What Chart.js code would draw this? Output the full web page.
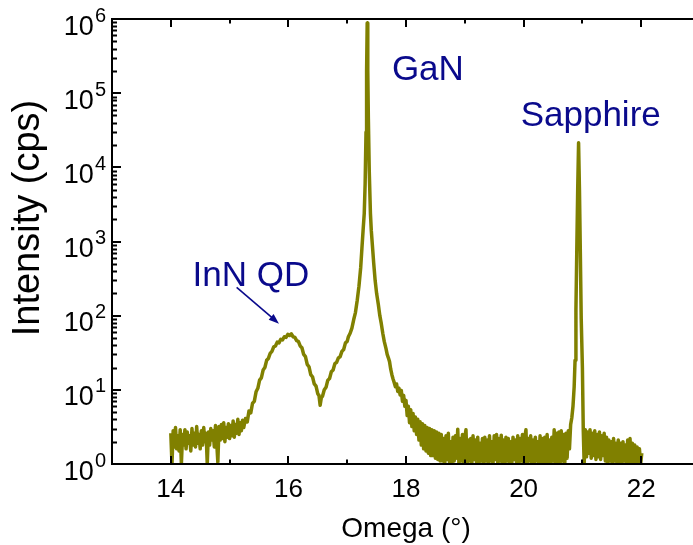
<!DOCTYPE html>
<html>
<head>
<meta charset="utf-8">
<title>XRD omega scan</title>
<script src="https://cdn.jsdelivr.net/npm/chart.js@4.4.1/dist/chart.umd.min.js"></script>
<style>
  html, body { margin: 0; padding: 0; background: #fff; overflow: hidden; }
  #wrap { position: relative; width: 702px; height: 545px; }
</style>
</head>
<body>
<div id="wrap"><canvas id="xrd-chart"></canvas></div>
<script>
// omega scan, angle in degrees
const omega = [
  // low-angle background
  14.00, 14.02, 14.04, 14.06, 14.08, 14.10, 14.12, 14.14, 14.16, 14.18,
  14.20, 14.22, 14.24, 14.26, 14.28, 14.30, 14.32, 14.34, 14.36, 14.38,
  14.40, 14.42, 14.44, 14.46, 14.48, 14.50, 14.52, 14.54, 14.56, 14.58,
  14.60, 14.62, 14.64, 14.66, 14.68, 14.70, 14.72, 14.74, 14.76, 14.78,
  14.80, 14.82, 14.84, 14.86, 14.88, 14.90, 14.92, 14.94, 14.96, 14.98,
  15.00, 15.02, 15.04, 15.06, 15.08, 15.10, 15.12, 15.14, 15.16, 15.18,
  15.20, 15.22, 15.24,
  // InN QD hump
  15.27, 15.30, 15.33, 15.36, 15.39, 15.42, 15.45, 15.48, 15.51, 15.54,
  15.57, 15.60, 15.63, 15.66, 15.69, 15.72, 15.75, 15.78, 15.81, 15.84,
  15.87, 15.90, 15.93, 15.96, 15.99, 16.02, 16.05, 16.08, 16.11, 16.14,
  16.17, 16.20, 16.23, 16.26, 16.29, 16.32, 16.35, 16.38, 16.41, 16.44,
  16.47, 16.50, 16.52, 16.54, 16.56, 16.58, 16.61, 16.64, 16.67, 16.70,
  16.73, 16.76, 16.79, 16.82, 16.85, 16.88, 16.91, 16.94, 16.97, 17.00,
  17.02,
  // GaN reflection
  17.05, 17.08, 17.11, 17.14, 17.17, 17.20, 17.23, 17.25, 17.27, 17.29,
  17.305, 17.32, 17.33, 17.34, 17.35, 17.36, 17.375, 17.395, 17.41, 17.43,
  17.45, 17.475, 17.50, 17.53, 17.555, 17.58, 17.605, 17.63,
  // GaN tail
  17.66, 17.68, 17.70, 17.72, 17.74, 17.76, 17.78, 17.80, 17.82, 17.84,
  17.86, 17.88, 17.90, 17.92, 17.94, 17.96, 17.98, 18.00, 18.02, 18.04,
  18.06, 18.08, 18.10, 18.12, 18.14, 18.16, 18.18, 18.20, 18.22, 18.24,
  18.26, 18.28, 18.30, 18.32, 18.34, 18.36, 18.38, 18.40, 18.42, 18.44,
  18.46, 18.48, 18.50, 18.52, 18.54, 18.56, 18.58,
  // mid background
  18.60, 18.62, 18.64, 18.66, 18.68, 18.70, 18.72, 18.74, 18.76, 18.78,
  18.80, 18.82, 18.84, 18.86, 18.88, 18.90, 18.92, 18.94, 18.96, 18.98,
  19.00, 19.02, 19.04, 19.06, 19.08, 19.10, 19.12, 19.14, 19.16, 19.18,
  19.20, 19.22, 19.24, 19.26, 19.28, 19.30, 19.32, 19.34, 19.36, 19.38,
  19.40, 19.42, 19.44, 19.46, 19.48, 19.50, 19.52, 19.54, 19.56, 19.58,
  19.60, 19.62, 19.64, 19.66, 19.68, 19.70, 19.72, 19.74, 19.76, 19.78,
  19.80, 19.82, 19.84, 19.86, 19.88, 19.90, 19.92, 19.94, 19.96, 19.98,
  20.00, 20.02, 20.04, 20.06, 20.08, 20.10, 20.12, 20.14, 20.16, 20.18,
  20.20, 20.22, 20.24, 20.26, 20.28, 20.30, 20.32, 20.34, 20.36, 20.38,
  20.40, 20.42, 20.44, 20.46, 20.48, 20.50, 20.52, 20.54, 20.56, 20.58,
  20.60, 20.62, 20.64, 20.66, 20.68, 20.70, 20.72, 20.74, 20.76, 20.78,
  20.80,
  // sapphire reflection
  20.82, 20.84, 20.86, 20.875, 20.89, 20.905, 20.92, 20.935, 20.95, 20.965,
  20.98, 21.00, 21.015, 21.03,
  // high-angle background
  21.05, 21.07, 21.09, 21.11, 21.13, 21.15, 21.17, 21.19, 21.21, 21.23,
  21.25, 21.27, 21.29, 21.31, 21.33, 21.35, 21.37, 21.39, 21.41, 21.43,
  21.45, 21.47, 21.49, 21.51, 21.53, 21.55, 21.57, 21.59, 21.61, 21.63,
  21.65, 21.67, 21.69, 21.71, 21.73, 21.75, 21.77, 21.79, 21.81, 21.83,
  21.85, 21.87, 21.89, 21.91, 21.93, 21.95, 21.97, 21.99, 22.01
];

// intensity in counts per second
const cps = [
  2.6, 1.0, 2.8, 1.7, 3.1, 1.6, 2.4, 1.5, 2.9, 1.0,
  2.5, 1.8, 2.9, 1.6, 2.7, 1.9, 2.4, 1.5, 3.0, 1.8,
  2.6, 1.7, 3.2, 1.9, 2.5, 1.6, 2.8, 1.8, 3.1, 2.0,
  2.6, 1.0, 2.7, 1.8, 3.0, 2.1, 2.8, 1.7, 3.3, 2.0,
  1.05, 3.2, 2.1, 3.4, 2.2, 3.6, 2.0, 3.1, 2.3, 3.5,
  2.2, 3.3, 2.4, 3.8, 2.3, 3.4, 2.6, 4.0, 2.5, 3.6,
  2.8, 3.9, 3.1,

  4.1, 3.7, 5.2, 4.9, 6.6, 7.0, 9.4, 10.5, 13.5, 14.5,
  18.5, 20, 25, 26.5, 31, 33, 38, 39, 44, 43,
  48, 47, 52, 51, 56, 54, 57, 52, 51, 46,
  45, 39, 37, 30, 28, 22, 20.5, 16, 15, 12,
  11.2, 8.8, 8.4, 6.2, 7.8, 8.2, 10, 10.8, 13.5, 14.2,
  17.5, 18.5, 22.5, 23.5, 27, 28, 33, 35, 43, 45,
  52,

  58, 68, 88, 110, 160, 250, 450, 800, 1400, 2400,
  6000, 30000, 200000, 880000, 200000, 45000, 9000, 2400, 1400, 850,
  520, 300, 200, 140, 100, 78, 58, 45,

  36, 30, 27, 24, 19, 16, 14, 12.5, 11, 12,
  9.5, 10.5, 8.5, 9.8, 7.0, 8.4, 6.0, 7.2, 4.5, 6.0,
  3.6, 5.4, 3.2, 4.8, 2.8, 4.3, 2.5, 4.0, 2.1, 3.7,
  1.8, 3.5, 1.6, 3.3, 1.5, 3.1, 1.4, 3.0, 1.3, 2.9,
  1.3, 2.8, 1.2, 2.7, 1.15, 2.6, 1.1,

  2.5, 1.1, 2.2, 1.0, 2.4, 1.15, 2.6, 1.05, 2.0, 1.0,
  2.3, 1.1, 2.4, 1.2, 2.95, 1.0, 2.2, 1.1, 2.5, 1.05,
  2.3, 2.9, 1.0, 2.1, 1.1, 2.2, 1.0, 2.4, 1.15, 2.1,
  1.0, 2.3, 1.0, 1.9, 1.1, 2.2, 1.0, 2.3, 1.1, 2.1,
  1.05, 2.4, 1.1, 2.0, 1.0, 2.4, 1.15, 2.5, 1.0, 2.2,
  1.1, 2.45, 1.0, 2.1, 1.0, 2.3, 1.1, 2.2, 1.05, 2.0,
  1.0, 2.3, 1.15, 2.1, 1.0, 2.4, 1.0, 2.2, 1.1, 2.5,
  1.05, 2.3, 2.9, 1.0, 2.2, 1.1, 2.4, 1.0, 2.1, 1.0,
  2.3, 1.1, 2.0, 1.0, 2.4, 1.0, 2.2, 1.05, 2.3, 1.0,
  2.5, 1.0, 2.1, 1.0, 2.3, 1.1, 2.9, 1.0, 2.6, 1.0,
  2.7, 1.0, 2.8, 1.1, 2.5, 1.0, 2.6, 1.2, 2.8, 1.6,
  3.4,

  4.2, 6, 11, 25, 120, 800, 5000, 21500, 5000, 700,
  90, 20, 2.8, 1.0,

  2.9, 1.25, 2.7, 1.4, 2.9, 1.2, 2.6, 1.3, 2.8, 1.15,
  2.5, 1.25, 2.7, 1.15, 2.4, 1.3, 2.6, 1.1, 2.3, 1.05,
  2.1, 1.1, 2.0, 1.0, 2.2, 1.1, 1.9, 1.0, 2.1, 1.05,
  1.9, 1.0, 2.0, 1.1, 1.8, 1.0, 2.1, 1.05, 2.2, 1.0,
  1.9, 1.05, 1.8, 1.0, 1.7, 1.05, 1.6, 1.0, 1.4
];

const xMajorTicks = [14, 16, 18, 20, 22];
const xMinorTicks = [15, 17, 19, 21, 23];
const yDecades = [0, 1, 2, 3, 4, 5, 6];

// peak labels: text, omega, intensity at text baseline
const peakLabels = [
  { text: "GaN", x: 17.76, y: 1.5e5 },
  { text: "Sapphire", x: 19.95, y: 3.6e4 },
  { text: "InN QD", x: 14.37, y: 255 }
];
// arrow pointing at the InN QD hump
const arrowFrom = { x: 15.12, y: 240 };
const arrowTo = { x: 15.84, y: 78 };

const FONT = "'Liberation Sans', Arial, sans-serif";
const LABEL_BLUE = "#0a0a8c";

const framePlugin = {
  id: "frame",
  afterDatasetsDraw(chart) {
    const ctx = chart.ctx;
    const xs = chart.scales.x;
    const ys = chart.scales.y;
    const { left, right, top, bottom } = chart.chartArea;

    ctx.save();
    ctx.strokeStyle = "#000";
    ctx.lineWidth = 2;
    ctx.strokeRect(left, top, right - left, bottom - top);

    // x ticks, inward on bottom and top
    ctx.beginPath();
    xMajorTicks.forEach((v) => {
      const px = Math.round(xs.getPixelForValue(v));
      ctx.moveTo(px, bottom); ctx.lineTo(px, bottom - 8);
      ctx.moveTo(px, top); ctx.lineTo(px, top + 8);
    });
    xMinorTicks.forEach((v) => {
      const px = Math.round(xs.getPixelForValue(v));
      ctx.moveTo(px, bottom); ctx.lineTo(px, bottom - 4.5);
      ctx.moveTo(px, top); ctx.lineTo(px, top + 4.5);
    });
    // y ticks on the left, decades long, 2..9 short
    yDecades.forEach((d) => {
      const py = Math.round(ys.getPixelForValue(Math.pow(10, d)));
      ctx.moveTo(left, py); ctx.lineTo(left + 9, py);
      if (d < 6) {
        for (let m = 2; m <= 9; m++) {
          const pm = Math.round(ys.getPixelForValue(m * Math.pow(10, d))) + 0.5;
          ctx.moveTo(left, pm); ctx.lineTo(left + 5, pm);
        }
      }
    });
    ctx.stroke();

    // x tick labels
    ctx.fillStyle = "#000";
    ctx.font = "26px " + FONT;
    ctx.textAlign = "center";
    ctx.textBaseline = "alphabetic";
    xMajorTicks.forEach((v) => {
      ctx.fillText(String(v), xs.getPixelForValue(v), bottom + 33);
    });

    // y tick labels as 10 with a raised exponent
    yDecades.forEach((d) => {
      const py = ys.getPixelForValue(Math.pow(10, d));
      ctx.textAlign = "right";
      ctx.font = "20px " + FONT;
      const supW = ctx.measureText(String(d)).width;
      ctx.fillText(String(d), left - 6, py + 2.5);
      ctx.font = "27px " + FONT;
      ctx.fillText("10", left - 7 - supW, py + 15.5);
    });

    // axis titles
    ctx.font = "28px " + FONT;
    ctx.textAlign = "center";
    ctx.fillText("Omega (\u00b0)", (left + right) / 2, 537);
    ctx.save();
    ctx.translate(29, 218);
    ctx.rotate(-Math.PI / 2);
    ctx.textBaseline = "middle";
    ctx.font = "38px " + FONT;
    ctx.fillText("Intensity (cps)", 0, 0);
    ctx.restore();

    // peak labels and arrow
    ctx.fillStyle = LABEL_BLUE;
    ctx.strokeStyle = LABEL_BLUE;
    ctx.font = "35px " + FONT;
    ctx.textAlign = "left";
    ctx.textBaseline = "alphabetic";
    peakLabels.forEach((l) => {
      ctx.fillText(l.text, xs.getPixelForValue(l.x), ys.getPixelForValue(l.y));
    });
    const ax0 = xs.getPixelForValue(arrowFrom.x), ay0 = ys.getPixelForValue(arrowFrom.y);
    const ax1 = xs.getPixelForValue(arrowTo.x), ay1 = ys.getPixelForValue(arrowTo.y);
    const ang = Math.atan2(ay1 - ay0, ax1 - ax0);
    ctx.lineWidth = 1.6;
    ctx.beginPath();
    ctx.moveTo(ax0, ay0);
    ctx.lineTo(ax1 - 8 * Math.cos(ang), ay1 - 8 * Math.sin(ang));
    ctx.stroke();
    ctx.beginPath();
    ctx.moveTo(ax1, ay1);
    ctx.lineTo(ax1 - 11 * Math.cos(ang - 0.35), ay1 - 11 * Math.sin(ang - 0.35));
    ctx.lineTo(ax1 - 11 * Math.cos(ang + 0.35), ay1 - 11 * Math.sin(ang + 0.35));
    ctx.closePath();
    ctx.fill();
    ctx.restore();
  }
};

new Chart(document.getElementById("xrd-chart"), {
  type: "line",
  data: {
    datasets: [
      {
        label: "omega scan",
        data: omega.map((x, i) => ({ x: x, y: cps[i] })),
        borderColor: "#808000",
        borderWidth: 3.5,
        borderJoinStyle: "round",
        pointRadius: 0,
        tension: 0,
        fill: false
      }
    ]
  },
  options: {
    responsive: true,
    maintainAspectRatio: false,
    devicePixelRatio: 1,
    animation: false,
    layout: { padding: { left: 112, right: 2, top: 19, bottom: 81 } },
    plugins: {
      legend: { display: false },
      tooltip: { enabled: false }
    },
    scales: {
      x: { type: "linear", min: 13, max: 23, display: false },
      y: { type: "logarithmic", min: 1, max: 1e6, display: false }
    }
  },
  plugins: [framePlugin]
});
</script>
</body>
</html>
